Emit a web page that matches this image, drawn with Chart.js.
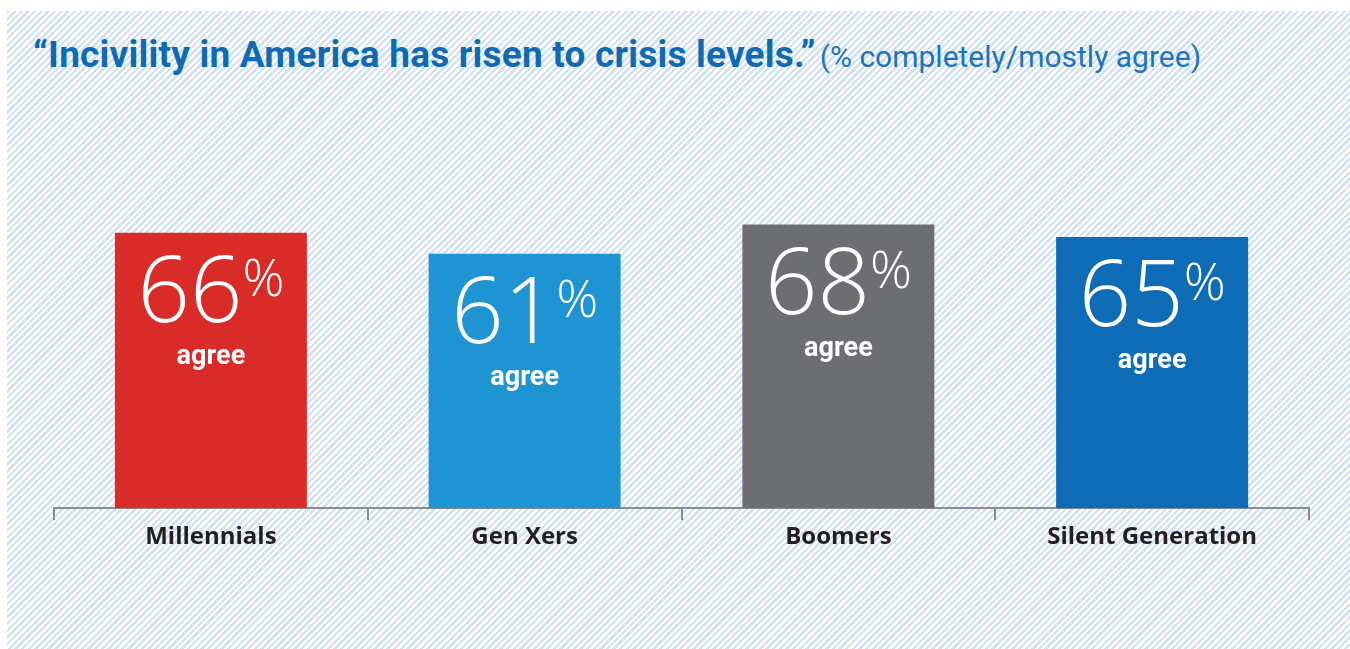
<!DOCTYPE html>
<html>
<head>
<meta charset="utf-8">
<script src="https://cdn.jsdelivr.net/npm/chart.js@4"></script>
<style>
  html, body { margin: 0; padding: 0; background: #fff; }
  body { width: 1350px; height: 649px; position: relative; overflow: hidden; }
  .panel {
    position: absolute; left: 7px; top: 11px; width: 1343px; height: 638px;
    background: repeating-linear-gradient(135deg, #d3e2f3 0 2.4px, #ffffff 2.4px 4.7px);
  }
  .title {
    position: absolute; left: 33px; top: 33px; margin: 0;
    white-space: nowrap; line-height: 44px; color: #0f6ab4;
    font-family: "Roboto", "Open Sans", sans-serif;
  }
  .title b { font-weight: 700; font-size: 37px; letter-spacing: 0.2px; }
  .title span { font-weight: 400; font-size: 30px; color: #1c74bb; margin-left: 4px; }
  .wrap { position: absolute; left: 0; top: 0; width: 1350px; height: 649px; }
</style>
</head>
<body>
<div class="panel"></div>
<h1 class="title"><b>“Incivility in America has risen to crisis levels.”</b><span>(% completely/mostly agree)</span></h1>
<div class="wrap"><canvas id="chart"></canvas></div>
<script>
const categories = ['Millennials', 'Gen Xers', 'Boomers', 'Silent Generation'];
const agreeShare = [66, 61, 68, 65];
const barColors = ['#d92b27', '#1e94d2', '#6d6e71', '#0e6cb6'];

// big "66%" + "agree" written inside each bar
const barLabels = {
  id: 'barLabels',
  afterDatasetsDraw(chart) {
    const ctx = chart.ctx;
    const meta = chart.getDatasetMeta(0);
    ctx.save();
    ctx.fillStyle = '#ffffff';
    ctx.textBaseline = 'alphabetic';
    meta.data.forEach((bar, i) => {
      const num = String(agreeShare[i]);
      ctx.font = '300 92px "Open Sans", sans-serif';
      const wNum = ctx.measureText(num).width;
      ctx.font = '300 52px "Open Sans", sans-serif';
      const wPct = ctx.measureText('%').width;
      const left = bar.x - (wNum + wPct) / 2;

      ctx.textAlign = 'left';
      ctx.font = '300 92px "Open Sans", sans-serif';
      ctx.fillText(num, left, bar.y + 89);
      ctx.font = '300 52px "Open Sans", sans-serif';
      ctx.fillText('%', left + wNum, bar.y + 63);

      ctx.textAlign = 'center';
      ctx.font = '700 27px "Roboto", sans-serif';
      ctx.fillText('agree', bar.x, bar.y + 131);
    });
    ctx.restore();
  }
};

new Chart(document.getElementById('chart'), {
  type: 'bar',
  data: {
    labels: categories,
    datasets: [{
      data: agreeShare,
      backgroundColor: barColors,
      borderWidth: 0,
      categoryPercentage: 1,
      barPercentage: 0.612
    }]
  },
  options: {
    responsive: true,
    maintainAspectRatio: false,
    animation: false,
    devicePixelRatio: 1,
    layout: { padding: { top: 91, bottom: 94, left: 54, right: 41 } },
    plugins: {
      legend: { display: false },
      tooltip: { enabled: false }
    },
    scales: {
      x: {
        border: { color: '#8b8c8e', width: 2 },
        grid: {
          offset: true,
          drawOnChartArea: false,
          drawTicks: true,
          tickLength: 12,
          color: '#8b8c8e',
          lineWidth: 2
        },
        ticks: {
          color: '#231f20',
          padding: 3,
          font: { family: '"Open Sans", sans-serif', size: 24, weight: 'bold' }
        }
      },
      y: { display: false, min: 0, max: 100 }
    }
  },
  plugins: [barLabels]
});
</script>
</body>
</html>
